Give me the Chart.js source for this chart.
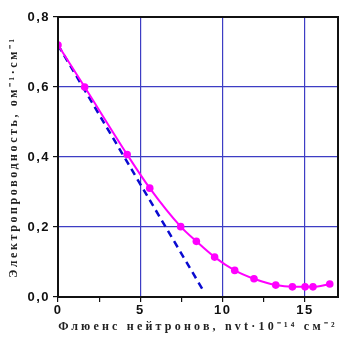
<!DOCTYPE html>
<html>
<head>
<meta charset="utf-8">
<script src="https://cdn.jsdelivr.net/npm/chart.js@4/dist/chart.umd.min.js"></script>
<style>
  html, body { margin: 0; padding: 0; background: #fff; }
  #wrap { width: 350px; height: 350px; }
</style>
</head>
<body>
<div id="wrap"><canvas id="fluenceChart"></canvas></div>
<script>
// measured conductivity vs neutron fluence (magenta curve)
var fluence = [0, 1.62, 4.2, 5.57, 7.45, 8.4, 9.51, 10.73, 11.9, 13.22, 14.23, 15.0, 15.48, 16.5];
var conductivity = [0.72, 0.60, 0.407, 0.311, 0.201, 0.159, 0.114, 0.076, 0.052, 0.034, 0.029, 0.029, 0.029, 0.037];

// linear extrapolation of the initial slope (blue dashed line)
var fitX = [0, 8.8];
var fitY = [0.72, 0.02];

// axis ticks
var xTicks = [0, 2.5, 5, 7.5, 10, 12.5, 15];
var yTicks = [0, 0.2, 0.4, 0.6, 0.8];

var xTitle = 'Флюенс нейтронов, nvt·10⁻¹⁴ см⁻²';
var yTitle = 'Электропроводность, ом⁻¹·см⁻¹';

function toPoints(xs, ys) {
    var pts = [];
    for (var i = 0; i < xs.length; i++) {
        pts.push({ x: xs[i], y: ys[i] });
    }
    return pts;
}

var gridBlue = '#3d3dc4';

// wider letter spacing for axis titles only
function spaceTitle(axis, spacing) {
    if (axis._spaced) return;
    axis._spaced = true;
    var orig = axis.drawTitle;
    axis.drawTitle = function() {
        var c = this.ctx;
        var old = c.letterSpacing;
        c.letterSpacing = spacing;
        orig.apply(this, arguments);
        c.letterSpacing = old;
    };
}

// letter spacing for tick text and a black frame round the plot area
var framePlugin = {
    id: 'frame',
    beforeDraw: function(chart) {
        chart.ctx.letterSpacing = '1.5px';
    },
    afterDraw: function(chart) {
        var a = chart.chartArea;
        var ctx = chart.ctx;
        ctx.save();
        ctx.strokeStyle = '#111';
        ctx.lineWidth = 2;
        ctx.strokeRect(a.left, a.top, a.right - a.left, a.bottom - a.top);
        ctx.restore();
    }
};

var ctx = document.getElementById('fluenceChart').getContext('2d');

new Chart(ctx, {
    type: 'line',
    data: {
        datasets: [{
            label: 'fit',
            data: toPoints(fitX, fitY),
            borderColor: '#0a0ad0',
            borderWidth: 2.5,
            borderDash: [7, 5],
            pointRadius: 0,
            fill: false,
            order: 2
        }, {
            label: 'measured',
            data: toPoints(fluence, conductivity),
            borderColor: '#ff00ff',
            backgroundColor: '#ff00ff',
            borderWidth: 2,
            pointRadius: 3.8,
            pointBorderWidth: 0,
            cubicInterpolationMode: 'monotone',
            fill: false,
            order: 1
        }]
    },
    options: {
        responsive: true,
        maintainAspectRatio: false,
        animation: false,
        layout: { padding: { top: 17, right: 12, bottom: 12, left: 0 } },
        plugins: {
            legend: { display: false },
            tooltip: { enabled: false }
        },
        scales: {
            x: {
                type: 'linear',
                min: 0,
                max: 17,
                afterBuildTicks: function(axis) {
                    axis.ticks = xTicks.map(function(v) { return { value: v }; });
                },
                afterFit: function(axis) {
                    axis.height = 41;
                    spaceTitle(axis, '3.2px');
                },
                grid: {
                    color: function(c) {
                        return c.tick && c.tick.value % 5 === 0 ? gridBlue : 'rgba(0,0,0,0)';
                    },
                    tickColor: '#111',
                    tickLength: 5,
                    lineWidth: 1.2
                },
                border: { display: false },
                ticks: {
                    padding: 1,
                    color: '#111',
                    font: { family: 'Liberation Sans', size: 13, weight: 'bold' },
                    callback: function(v) { return v % 5 === 0 ? String(v) : ''; }
                },
                title: {
                    display: true,
                    text: xTitle,
                    color: '#222',
                    padding: { top: 2, bottom: 4 },
                    font: { family: 'Liberation Serif', size: 12, weight: 'bold' }
                }
            },
            y: {
                type: 'linear',
                min: 0,
                max: 0.8,
                afterBuildTicks: function(axis) {
                    axis.ticks = yTicks.map(function(v) { return { value: v }; });
                },
                afterFit: function(axis) {
                    axis.width = 58;
                    spaceTitle(axis, '2.6px');
                },
                grid: {
                    color: gridBlue,
                    tickColor: '#111',
                    tickLength: 5,
                    lineWidth: 1.2
                },
                border: { display: false },
                ticks: {
                    padding: 3,
                    color: '#111',
                    font: { family: 'Liberation Sans', size: 13, weight: 'bold' },
                    callback: function(v) { return v.toFixed(1).replace('.', ','); }
                },
                title: {
                    display: true,
                    text: yTitle,
                    color: '#222',
                    padding: { top: 7, bottom: 0 },
                    font: { family: 'Liberation Serif', size: 12, weight: 'bold' }
                }
            }
        }
    },
    plugins: [framePlugin]
});
</script>
</body>
</html>
